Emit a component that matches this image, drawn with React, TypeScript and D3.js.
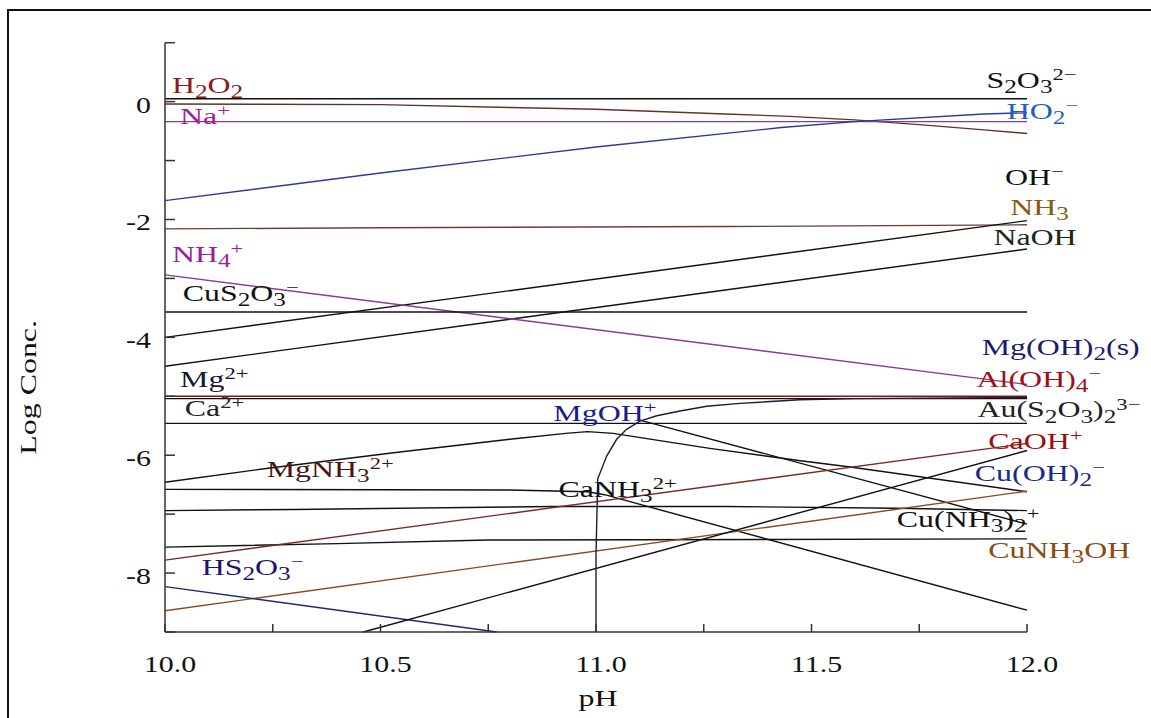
import React from 'react';
import * as d3 from 'd3';

// species log concentrations, [pH, log C]
const s2o3 = [[10, 0.05], [12, 0.05]];
const h2o2 = [[10, -0.04], [10.5, -0.05], [10.8, -0.1], [11.0, -0.13], [11.3, -0.21], [11.45, -0.25], [11.6, -0.31], [11.75, -0.39], [11.9, -0.48], [12, -0.54]];
const naPlus = [[10, -0.34], [12, -0.34]];
const ho2 = [[10, -1.68], [10.5, -1.21], [11.0, -0.77], [11.43, -0.44], [11.6, -0.34], [11.9, -0.21], [12, -0.19]];
const nh3 = [[10, -2.16], [10.5, -2.14], [11.3, -2.12], [12, -2.09]];
const ohMinus = [[10, -4.0], [12, -2.02]];
const naoh = [[10, -4.49], [12, -2.5]];
const nh4 = [[10, -2.94], [12, -4.8]];
const cus2o3 = [[10, -3.57], [12, -3.57]];
const aloh4 = [[10, -5.0], [12, -5.0]];
const ca2 = [[10, -5.04], [12, -5.04]];
const aus2o3 = [[10, -5.46], [12, -5.46]];
const mgnh3 = [[10, -6.46], [10.23, -6.23], [10.54, -5.95], [10.8, -5.73], [10.93, -5.63], [10.98, -5.6], [11.04, -5.63], [11.26, -5.88], [11.47, -6.09], [11.59, -6.2], [12, -6.62]];
const mgohPlus = [[11.1, -5.4], [12, -7.17]];
const canh3 = [[10, -6.58], [10.8, -6.59], [10.98, -6.62], [11.02, -6.67], [12, -8.63]];
const cunh32 = [[10, -6.94], [10.3, -6.92], [10.9, -6.87], [11.3, -6.87], [11.7, -6.9], [12, -6.94]];
const cuOther = [[10, -7.56], [10.4, -7.5], [10.75, -7.44], [12, -7.42]];
const caoh = [[10, -7.78], [12, -5.8]];
const cunh3oh = [[10, -8.64], [12, -6.61]];
const hs2o3 = [[10, -8.23], [10.77, -9.0]];
const cuoh2 = [[10.46, -9.0], [12, -5.92]];
const mgoh2s = [[11.0, -9.0], [11.0, -7.7], [11.004, -6.4], [11.025, -6.01], [11.048, -5.73], [11.071, -5.56], [11.102, -5.42], [11.141, -5.33], [11.195, -5.25], [11.257, -5.17], [11.334, -5.12], [11.473, -5.06], [11.6, -5.04], [12, -5.02]];

const yTicks = d3.range(-9, 2);
const yTickLabels = [0, -2, -4, -6, -8];
const xTicks = d3.range(10, 12.001, 0.25);
const xTickLabels = [10, 10.5, 11, 11.5, 12];

const series = [
  { d: s2o3, c: '#111' },
  { d: h2o2, c: '#5e3328' },
  { d: naPlus, c: '#8a3f8e' },
  { d: ho2, c: '#2b3a9a' },
  { d: nh3, c: '#6e3f30' },
  { d: ohMinus, c: '#111' },
  { d: naoh, c: '#111' },
  { d: nh4, c: '#8c3a96' },
  { d: cus2o3, c: '#111' },
  { d: ca2, c: '#111' },
  { d: aloh4, c: '#8b1515' },
  { d: aus2o3, c: '#111' },
  { d: mgnh3, c: '#111' },
  { d: mgohPlus, c: '#111' },
  { d: canh3, c: '#111' },
  { d: cunh32, c: '#111' },
  { d: cuOther, c: '#111' },
  { d: caoh, c: '#7a2a22' },
  { d: cunh3oh, c: '#8a4a25' },
  { d: hs2o3, c: '#1f2a70' },
  { d: cuoh2, c: '#111' },
  { d: mgoh2s, c: '#1c1c3a' },
];

// label text, anchor [pH, log C] of baseline start, colour
const labels = [
  { t: 'H_2O_2', p: [10.016, 0.147], c: '#8b1a1a' },
  { t: 'Na^+', p: [10.035, -0.376], c: '#a020a0' },
  { t: 'S_2O_3^{2−}', p: [11.906, 0.236], c: '#111' },
  { t: 'HO_2^−', p: [11.953, -0.297], c: '#1f5fc0' },
  { t: 'OH^−', p: [11.949, -1.423], c: '#111' },
  { t: 'NH_3', p: [11.961, -1.929], c: '#8b5a10' },
  { t: 'NaOH', p: [11.922, -2.435], c: '#1a2a1a' },
  { t: 'NH_4^+', p: [10.016, -2.72], c: '#9a20a0' },
  { t: 'CuS_2O_3^−', p: [10.041, -3.381], c: '#111' },
  { t: 'Mg^{2+}', p: [10.035, -4.844], c: '#111a30' },
  { t: 'Ca^{2+}', p: [10.046, -5.333], c: '#222' },
  { t: 'MgNH_3^{2+}', p: [10.236, -6.373], c: '#4a1410' },
  { t: 'MgOH^+', p: [10.901, -5.418], c: '#1a1a8a' },
  { t: 'CaNH_3^{2+}', p: [10.913, -6.711], c: '#111' },
  { t: 'HS_2O_3^−', p: [10.085, -8.034], c: '#1c1470' },
  { t: 'Mg(OH)_2(s)', p: [11.895, -4.292], c: '#1a1a70' },
  { t: 'Al(OH)_4^−', p: [11.883, -4.837], c: '#a01018' },
  { t: 'Au(S_2O_3)_2^{3−}', p: [11.885, -5.36], c: '#222' },
  { t: 'CaOH^+', p: [11.91, -5.895], c: '#9a1010' },
  { t: 'Cu(OH)_2^−', p: [11.879, -6.43], c: '#1a2a8a' },
  { t: 'Cu(NH_3)_2^+', p: [11.698, -7.217], c: '#111' },
  { t: 'CuNH_3OH', p: [11.91, -7.752], c: '#8b4a10' },
];

const FONT = '"Liberation Serif", "Times New Roman", serif';
const SX = 1.33;

function parseChem(s) {
  const out = [];
  let i = 0;
  while (i < s.length) {
    const ch = s[i];
    if (ch === '_' || ch === '^') {
      let t;
      if (s[i + 1] === '{') {
        const j = s.indexOf('}', i);
        t = s.slice(i + 2, j);
        i = j + 1;
      } else {
        t = s[i + 1];
        i += 2;
      }
      out.push({ t, k: ch === '_' ? 'b' : 'p' });
    } else {
      let j = i;
      while (j < s.length && s[j] !== '_' && s[j] !== '^') j++;
      out.push({ t: s.slice(i, j), k: 'n' });
      i = j;
    }
  }
  return out;
}

const offs = { n: 0, b: 5, p: -8 };
const sizes = { n: 24, b: 19, p: 17 };

function Chem({ x, y, text, color }) {
  let cur = 0;
  const segs = parseChem(text);
  return (
    <text transform={`translate(${x},${y}) scale(${SX},1)`} fill={color} fontFamily={FONT} fontSize={24}>
      {segs.map((g, i) => {
        const dy = offs[g.k] - cur;
        cur = offs[g.k];
        return <tspan key={i} dy={dy} fontSize={sizes[g.k]}>{g.t}</tspan>;
      })}
    </text>
  );
}

export default function App() {
  const W = 1151, H = 718;
  const x = d3.scaleLinear().domain([10, 12]).range([165, 1027]);
  const y = d3.scaleLinear().domain([-9, 1]).range([632, 42.7]);
  const line = d3.line().x(d => x(d[0])).y(d => y(d[1]));

  return (
    <svg width={W} height={H} style={{ position: 'absolute', left: 0, top: 0, background: '#fff' }}>
      {/* outer frame */}
      <path d={`M8,${H} L8,10 L${W},10`} fill="none" stroke="#111" strokeWidth={2} />

      {series.map((s, i) => (
        <path key={i} d={line(s.d)} fill="none" stroke={s.c} strokeWidth={1.4} />
      ))}

      {/* axes */}
      <g stroke="#333" strokeWidth={1.5}>
        <line x1={x(10)} x2={x(10)} y1={y(1)} y2={y(-9)} />
        <line x1={x(10)} x2={x(12)} y1={y(-9)} y2={y(-9)} />
        {yTicks.map(v => (
          <line key={'y' + v} x1={x(10)} x2={x(10) + 10} y1={y(v)} y2={y(v)} />
        ))}
        {xTicks.map(v => (
          <line key={'x' + v} x1={x(v)} x2={x(v)} y1={y(-9)} y2={y(-9) - 8} />
        ))}
      </g>
      {yTickLabels.map(v => (
        <text key={'yl' + v} transform={`translate(151,${y(v) + 11}) scale(${SX},1)`} textAnchor="end"
          fontFamily={FONT} fontSize={22.5} fill="#111">{String(v)}</text>
      ))}
      {xTickLabels.map(v => (
        <text key={'xl' + v} transform={`translate(${x(v) + 5},672) scale(${SX},1)`} textAnchor="middle"
          fontFamily={FONT} fontSize={22.5} fill="#111">{d3.format('.1f')(v)}</text>
      ))}
      <text transform={`translate(${(x(10) + x(12)) / 2 + 2},706) scale(${SX},1)`} textAnchor="middle"
        fontFamily={FONT} fontSize={24} fill="#111">pH</text>
      <text transform={`translate(36,${(y(1) + y(-9)) / 2 + 50}) rotate(-90) scale(${SX},1)`} textAnchor="middle"
        fontFamily={FONT} fontSize={24} fill="#111">Log Conc.</text>

      {labels.map((l, i) => (
        <Chem key={i} x={x(l.p[0])} y={y(l.p[1])} text={l.t} color={l.c} />
      ))}
    </svg>
  );
}
